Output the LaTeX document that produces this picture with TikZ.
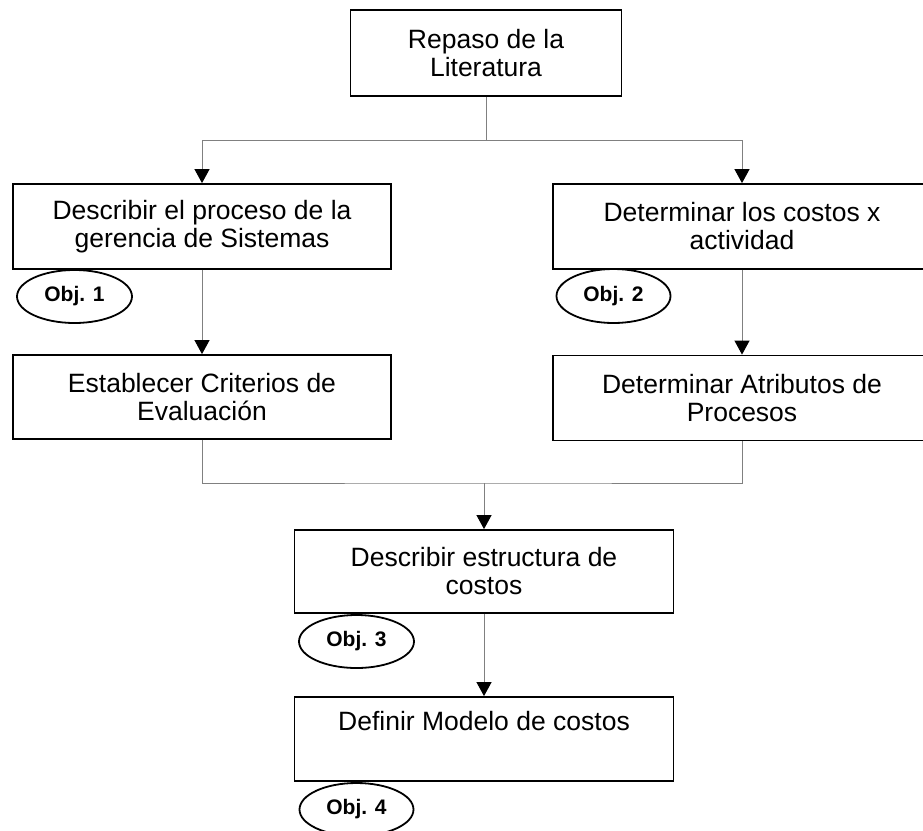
\documentclass[tikz,border=0pt]{standalone}
\usepackage{fontspec}
\setmainfont{Liberation Sans}
\usetikzlibrary{arrows.meta,shapes.geometric}
\definecolor{connGray}{RGB}{128,128,128}
\begin{document}
\begin{tikzpicture}[x=1pt,y=-1pt,
  box/.style={draw=black, line width=1.8pt, rectangle, inner sep=0pt, align=center,
    font=\fontsize{26.5}{28}\selectfont},
  obj/.style={draw=black, line width=1.8pt, ellipse, inner sep=0pt,
    font=\bfseries\fontsize{21}{24}\selectfont},
  conn/.style={draw=connGray, line width=1pt},
  arr/.style={conn, -{Triangle[length=14pt,width=15pt,color=black,fill=black]}}]
\fill[white] (0,0) rectangle (923,830);
\clip (0,0) rectangle (923,830);

\node[box, minimum width=271pt, minimum height=86pt] (top) at (486,53) {Repaso de la\\Literatura};
\node[box, minimum width=378pt, minimum height=85pt] (L1) at (202,226.5) {Describir el proceso de la\\gerencia de Sistemas};
\node[box, minimum width=378pt, minimum height=85pt] (R1) at (742,226.5) {Determinar los costos x\\actividad};
\node[box, minimum width=378pt, minimum height=84pt] (L2) at (202,397) {Establecer Criterios de\\Evaluación};
\node[box, minimum width=378pt, minimum height=85pt] (R2) at (742,398) {Determinar Atributos de\\Procesos};
\node[box, minimum width=379pt, minimum height=83pt] (M1) at (484,571.5) {Describir estructura de\\costos};
\node[box, minimum width=379pt, minimum height=84pt] (M2) at (484,739) {Definir Modelo de costos\\\strut};

\node[obj, minimum width=115pt, minimum height=53pt] (o1) at (74.5,296.5) {Obj. 1};
\node[obj, minimum width=114pt, minimum height=54pt] (o2) at (613.5,296) {Obj. 2};
\node[obj, minimum width=115pt, minimum height=53pt] (o3) at (356.5,641.5) {Obj. 3};
\node[obj, minimum width=114pt, minimum height=53pt] (o4) at (356.5,809.5) {Obj. 4};

\coordinate (j1) at (486,140);
\coordinate (j2) at (484,483);

\draw[arr] (top.south) -- (j1) -| (L1.north);
\draw[arr] (j1) -| (R1.north);
\draw[arr] (L1.south) -- (L2.north);
\draw[arr] (R1.south) -- (R2.north);
\draw[conn] (L2.south) |- (j2) -| (R2.south);
\draw[arr] (j2) -- (M1.north);
\draw[arr] (M1.south) -- (M2.north);
\end{tikzpicture}
\end{document}
